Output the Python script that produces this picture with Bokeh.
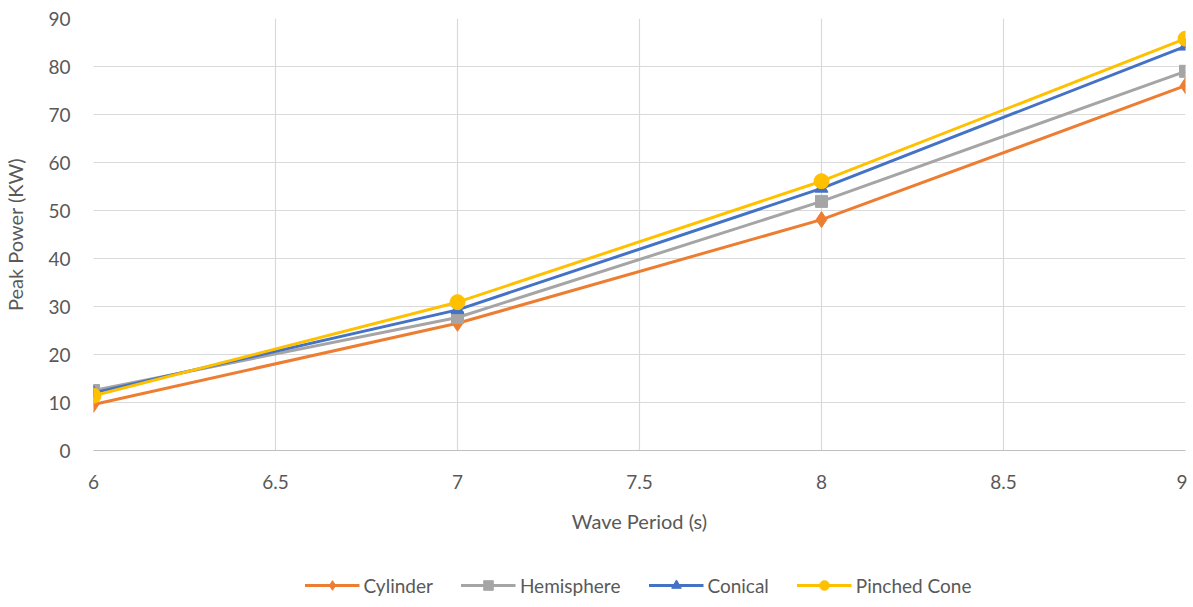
from bokeh.plotting import figure
from bokeh.layouts import column
from bokeh.embed import file_html
from bokeh.resources import INLINE
from bokeh.models import Legend, LegendItem, FixedTicker

periods = [6, 7, 8, 9]
cylinder = [9.6, 26.5, 48.1, 76.0]
hemisphere = [12.5, 27.7, 51.9, 79.0]
conical = [12.0, 29.3, 54.6, 84.2]
pinched = [11.4, 30.9, 56.1, 85.8]

x_ticks = [6, 6.5, 7, 7.5, 8, 8.5, 9]
y_ticks = [0, 10, 20, 30, 40, 50, 60, 70, 80, 90]

FONT = "Lato"
TXT = "#595959"

p = figure(frame_width=1092, frame_height=432, output_backend="svg", toolbar_location=None,
           x_range=(6, 9), y_range=(0, 90),
           min_border_left=91, min_border_right=2, min_border_top=18, min_border_bottom=0)
p.outline_line_color = None
p.background_fill_color = "white"

p.xaxis.ticker = FixedTicker(ticks=x_ticks)
p.yaxis.ticker = FixedTicker(ticks=y_ticks)
p.xaxis.major_label_overrides = {6: "6", 6.5: "6.5", 7: "7", 7.5: "7.5", 8: "8", 8.5: "8.5", 9: "9"}
for ax in (p.xaxis[0], p.yaxis[0]):
    ax.major_tick_line_color = None
    ax.minor_tick_line_color = None
    ax.major_label_text_font = FONT
    ax.major_label_text_font_size = "19px"
    ax.major_label_text_color = TXT
    ax.axis_label_text_font = FONT
    ax.axis_label_text_font_size = "20px"
    ax.axis_label_text_color = TXT
    ax.axis_label_text_font_style = "normal"
p.xaxis.axis_line_color = "#bfbfbf"
p.yaxis.axis_line_color = None
p.xaxis.axis_label = "Wave Period (s)"
p.yaxis.axis_label = "Peak Power (KW)"
p.xaxis.major_label_standoff = 18
p.xaxis.axis_label_standoff = 17
p.yaxis.major_label_standoff = 17
p.yaxis.axis_label_standoff = 18
p.xgrid.grid_line_color = "#d9d9d9"
p.ygrid.grid_line_color = "#d9d9d9"
p.xgrid.grid_line_width = 1.2
p.ygrid.grid_line_width = 1.2

series = [
    ("Cylinder", cylinder, "#ED7D31", "diamond", 16),
    ("Hemisphere", hemisphere, "#A5A5A5", "square", 12),
    ("Conical", conical, "#4472C4", "triangle", 13),
    ("Pinched Cone", pinched, "#FFC000", "circle", 15),
]

# legend strip: a separate figure placed below the chart
lg = figure(width=1185, height=100, output_backend="svg", toolbar_location=None,
            x_range=(0, 1), y_range=(0, 1),
            min_border_left=0, min_border_right=0, min_border_top=0, min_border_bottom=0)
lg.axis.visible = False
lg.grid.visible = False
lg.outline_line_color = None

items = []
for name, vals, col, mk, sz in series:
    p.line(periods, vals, line_color=col, line_width=3)
    p.scatter(periods, vals, marker=mk, size=sz, fill_color=col, line_color=col)
    # legend-strip renderers (data lies outside the strip's ranges, so only the legend shows)
    l2 = lg.line(periods, vals, line_color=col, line_width=3)
    m2 = lg.scatter(periods, vals, marker=mk, size=sz, fill_color=col, line_color=col)
    items.append(LegendItem(label=name, renderers=[l2, m2]))

legend = Legend(items=items, orientation="horizontal", location="center",
                label_text_font=FONT, label_text_font_size="19px", label_text_color=TXT,
                border_line_color=None, background_fill_alpha=0,
                glyph_width=55, glyph_height=24, spacing=28, margin=0, padding=0, label_standoff=4)
lg.add_layout(legend, "center")

layout = column(p, lg, spacing=0)
open("out.html", "w").write(file_html(layout, INLINE))
